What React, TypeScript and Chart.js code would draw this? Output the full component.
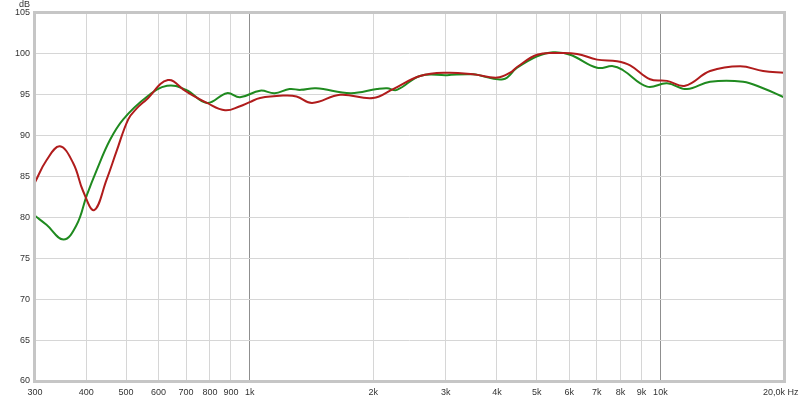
import React, { useEffect, useRef } from "react";
import { Chart, registerables } from "chart.js";
Chart.register(...registerables);

const X_TICKS = [300, 400, 500, 600, 700, 800, 900, 1000, 2000, 3000, 4000, 5000, 6000, 7000, 8000, 9000, 10000, 20000];
const X_LABELS = ["300", "400", "500", "600", "700", "800", "900", "1k", "2k", "3k", "4k", "5k", "6k", "7k", "8k", "9k", "10k", ""];
const LAST_X_LABEL = "20,0k Hz";
const Y_UNIT = "dB";

const redFreq = [300, 320, 345, 372, 393, 418, 448, 474, 506, 530, 560, 632, 700, 787, 871, 947, 1000, 1060, 1205, 1300, 1419, 1660, 1996, 2234, 2598, 3024, 3498, 4003, 4306, 4478, 5010, 5602, 6270, 7011, 7845, 8439, 9438, 10380, 11490, 13214, 15640, 17790, 20000];
const redDb = [84.3, 87.0, 88.7, 86.6, 83.2, 80.9, 84.6, 88.1, 92.0, 93.3, 94.4, 96.8, 95.4, 94.0, 93.1, 93.6, 94.1, 94.6, 94.9, 94.8, 94.0, 95.0, 94.6, 95.7, 97.3, 97.7, 97.5, 97.1, 97.7, 98.4, 99.9, 100.1, 100.0, 99.3, 99.1, 98.6, 96.9, 96.7, 96.1, 97.9, 98.5, 97.9, 97.7];

const greenFreq = [300, 320, 352, 379, 401, 424, 457, 492, 560, 629, 700, 787, 880, 947, 1060, 1150, 1250, 1330, 1450, 1760, 2042, 2160, 2283, 2598, 3024, 3498, 4140, 4478, 5010, 5478, 6028, 7011, 7671, 8112, 9283, 10380, 11610, 13214, 15900, 17790, 20000];
const greenDb = [80.2, 79.1, 77.3, 79.1, 82.7, 85.8, 89.5, 92.0, 94.7, 96.1, 95.6, 94.0, 95.2, 94.7, 95.5, 95.2, 95.7, 95.6, 95.8, 95.2, 95.7, 95.8, 95.6, 97.3, 97.4, 97.5, 96.9, 98.3, 99.7, 100.2, 99.9, 98.3, 98.5, 98.0, 96.0, 96.4, 95.7, 96.6, 96.6, 95.8, 94.7];

const RED = "#b01c1c";
const GREEN = "#1f8a1f";
const FONT = "'Liberation Sans', Arial, sans-serif";
const FONT_SIZE = 9;

export default function App() {
  const ref = useRef<HTMLCanvasElement | null>(null);
  useEffect(() => {
    if (!ref.current) return;
    const framePlugin = {
      id: "frame",
      afterDatasetsDraw(chart: any) {
        const { ctx, chartArea } = chart;
        ctx.save();
        ctx.strokeStyle = "#c6c6c6";
        ctx.lineWidth = 3;
        ctx.strokeRect(chartArea.left - 0.5, chartArea.top - 0.5, chartArea.right - chartArea.left + 1, chartArea.bottom - chartArea.top + 1);
        ctx.restore();
      },
      afterDraw(chart: any) {
        const { ctx } = chart;
        ctx.save();
        ctx.fillStyle = "#333";
        ctx.font = `${FONT_SIZE}px ${FONT}`;
        ctx.textBaseline = "middle";
        ctx.textAlign = "right";
        ctx.fillText(Y_UNIT, 30, 5);
        ctx.textAlign = "left";
        ctx.fillText(LAST_X_LABEL, 763, 393);
        ctx.restore();
      },
    };
    const chart = new Chart(ref.current, {
      type: "line",
      data: {
        datasets: [
          {
            label: "red",
            data: redFreq.map((f, i) => ({ x: f, y: redDb[i] })),
            borderColor: RED,
            borderWidth: 2,
            pointRadius: 0,
            tension: 0.4,
            fill: false,
          },
          {
            label: "green",
            data: greenFreq.map((f, i) => ({ x: f, y: greenDb[i] })),
            borderColor: GREEN,
            borderWidth: 2,
            pointRadius: 0,
            tension: 0.4,
            fill: false,
          },
        ],
      },
      options: {
        animation: false,
        responsive: false,
        maintainAspectRatio: false,
        layout: { padding: { top: 13, right: 16, bottom: 0, left: 0 } },
        plugins: { legend: { display: false }, tooltip: { enabled: false } },
        scales: {
          x: {
            type: "logarithmic",
            min: 300,
            max: 20000,
            afterBuildTicks(scale: any) {
              scale.ticks = X_TICKS.map((v) => ({ value: v }));
            },
            afterFit(scale: any) {
              scale.height = 19;
              scale.paddingLeft = 0;
              scale.paddingRight = 0;
            },
            ticks: {
              autoSkip: false,
              maxRotation: 0,
              padding: 6,
              color: "#333",
              font: { size: FONT_SIZE, family: FONT },
              callback: (v: any, i: number) => X_LABELS[i],
            },
            grid: {
              drawTicks: false,
              color: (c: any) => (c.tick && (c.tick.value === 1000 || c.tick.value === 10000) ? "#8f8f8f" : "#d6d6d6"),
              lineWidth: 1,
            },
            border: { display: false },
          },
          y: {
            min: 60,
            max: 105,
            afterFit(scale: any) {
              scale.width = 35;
            },
            ticks: {
              stepSize: 5,
              padding: 5,
              color: "#333",
              font: { size: FONT_SIZE, family: FONT },
            },
            grid: { drawTicks: false, color: "#d6d6d6", lineWidth: 1 },
            border: { display: false },
          },
        },
      },
      plugins: [framePlugin],
    } as any);
    return () => chart.destroy();
  }, []);
  return (
    <div style={{ position: "absolute", left: 0, top: 0, width: 800, height: 400, background: "#fff" }}>
      <canvas ref={ref} width={800} height={400} />
    </div>
  );
}
